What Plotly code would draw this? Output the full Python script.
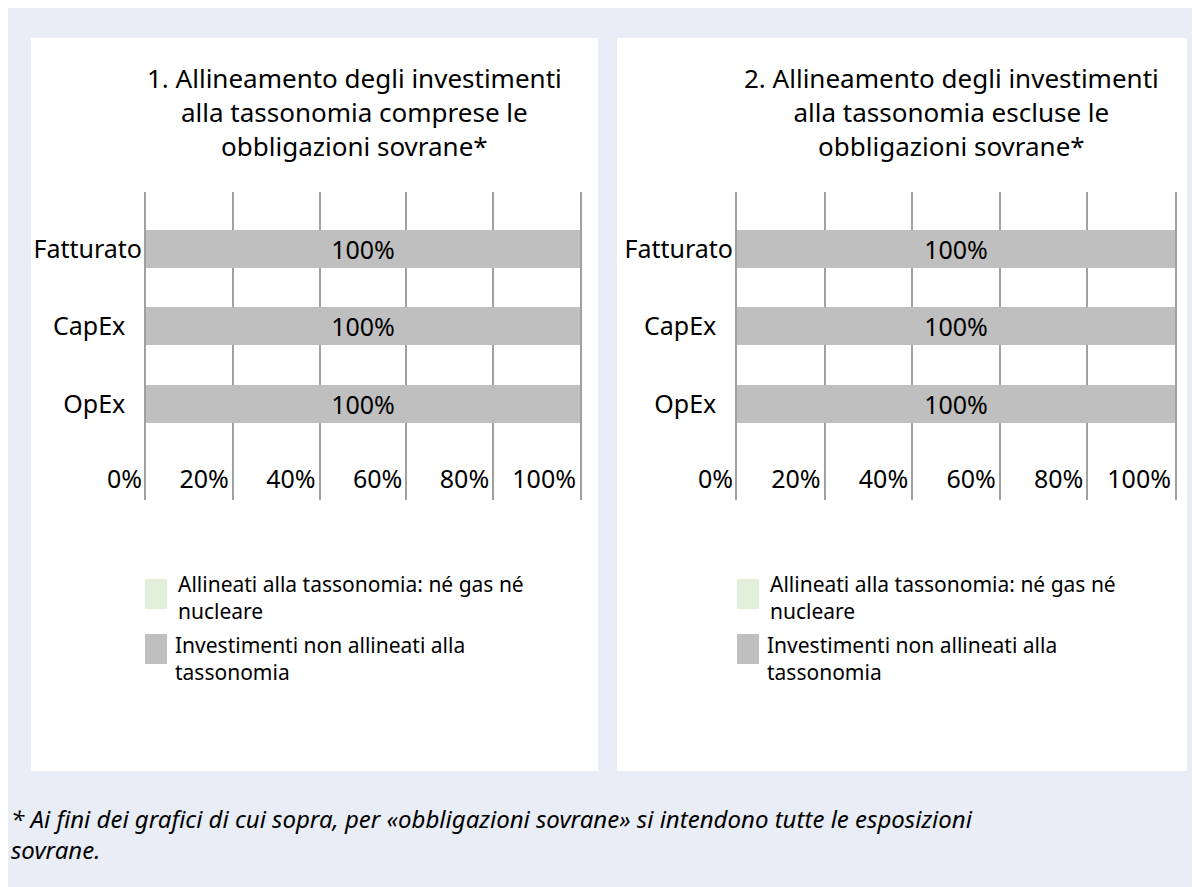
import plotly.graph_objects as go

# ---------------- data ----------------
categories = ["Fatturato", "CapEx", "OpEx"]
category_tick_labels = ["Fatturato", "CapEx\u2002\u2009", "OpEx\u2002\u2009"]

series_names = [
    "Allineati alla tassonomia: né gas né nucleare",
    "Investimenti non allineati alla tassonomia",
]
legend_labels = [
    "Allineati alla tassonomia: né gas né<br>nucleare",
    "Investimenti non allineati alla<br>tassonomia",
]
series_colors = ["#E2EFDA", "#BFBFBF"]

# chart 1: including sovereign bonds
aligned_incl = [0, 0, 0]
not_aligned_incl = [100, 100, 100]
# chart 2: excluding sovereign bonds
aligned_excl = [0, 0, 0]
not_aligned_excl = [100, 100, 100]

x_tick_values = [0, 20, 40, 60, 80, 100]
x_tick_labels = ["0%", "20%", "40%", "60%", "80%", "100%"]

chart_titles = [
    "1. Allineamento degli investimenti<br>alla tassonomia comprese le<br>obbligazioni sovrane*",
    "2. Allineamento degli investimenti<br>alla tassonomia escluse le<br>obbligazioni sovrane*",
]
footnote = ("<i>* Ai fini dei grafici di cui sopra, per «obbligazioni sovrane» si intendono "
            "tutte le esposizioni<br>sovrane.</i>")

# ---------------- layout helpers ----------------
W, H = 1200, 887
OFF = 8  # page margin around the figure
FONT = "Noto Sans"
BG = "#E9EDF6"
GRID = "#A0A0A0"


def px(x):
    return (x - OFF) / W


def py(y):
    return 1 - (y - OFF) / H


fig = go.Figure()

panels = [
    dict(xa="x", ya="y", aligned=aligned_incl, other=not_aligned_incl),
    dict(xa="x2", ya="y2", aligned=aligned_excl, other=not_aligned_excl),
]
for p in panels:
    for k, (name, vals, col) in enumerate(zip(series_names, [p["aligned"], p["other"]], series_colors)):
        fig.add_trace(go.Bar(
            y=categories, x=vals, name=name, orientation="h",
            xaxis=p["xa"], yaxis=p["ya"],
            marker=dict(color=col, line=dict(width=0)),
            width=0.49,
            text=[f"{v}%" for v in vals] if k == 1 else None,
            texttemplate="%{text}" if k == 1 else "",
            textposition="inside", insidetextanchor="middle",
            textfont=dict(family=FONT, size=25, color="#000000"),
            showlegend=False,
        ))

plot_top, plot_bottom = 192, 500
x_domains = [(146, 580), (737, 1175)]

axis_common_x = dict(
    range=[0, 100], tickmode="array", tickvals=x_tick_values, ticktext=x_tick_labels,
    showgrid=True, gridcolor=GRID, gridwidth=2, zeroline=False, showline=False,
    ticks="", ticklabelposition="outside left", ticklabelstandoff=-38, ticklabelshift=-4,
    tickfont=dict(family=FONT, size=25, color="#000000"), automargin=False,
)
axis_common_y = dict(
    type="category", categoryorder="array", categoryarray=categories[::-1],
    range=[-1.24, 2.735], tickmode="array", tickvals=categories, ticktext=category_tick_labels,
    showgrid=False, zeroline=False, showline=True, mirror=True, linecolor=GRID, linewidth=2,
    ticks="", ticklabelstandoff=-3,
    tickfont=dict(family=FONT, size=25, color="#000000"), automargin=False,
)

fig.update_layout(
    xaxis=dict(domain=[px(x_domains[0][0]), px(x_domains[0][1])], anchor="y", **axis_common_x),
    xaxis2=dict(domain=[px(x_domains[1][0]), px(x_domains[1][1])], anchor="y2", **axis_common_x),
    yaxis=dict(domain=[py(plot_bottom), py(plot_top)], anchor="x", **axis_common_y),
    yaxis2=dict(domain=[py(plot_bottom), py(plot_top)], anchor="x2", **axis_common_y),
)

shapes = [
    dict(type="rect", xref="paper", yref="paper", x0=px(31), x1=px(598), y0=py(771), y1=py(38),
         fillcolor="#FFFFFF", line=dict(width=0), layer="below"),
    dict(type="rect", xref="paper", yref="paper", x0=px(617), x1=px(1187), y0=py(771), y1=py(38),
         fillcolor="#FFFFFF", line=dict(width=0), layer="below"),
]

annotations = []
title_centers = [354, 951]
for t, cx in zip(chart_titles, title_centers):
    annotations.append(dict(
        text=t, x=px(cx), y=py(112), xref="paper", yref="paper",
        xanchor="center", yanchor="middle", showarrow=False, align="center",
        font=dict(family=FONT, size=26, color="#000000"),
    ))

# manual legends (one per panel)
legend_offsets = [0, 592]
swatch_tops = [579, 634]
text_tops = [568, 629]
text_lefts = [176, 173]
for off in legend_offsets:
    for i, (lab, col) in enumerate(zip(legend_labels, series_colors)):
        shapes.append(dict(
            type="rect", xref="paper", yref="paper",
            x0=px(145 + off), x1=px(167 + off), y0=py(swatch_tops[i] + 30), y1=py(swatch_tops[i]),
            fillcolor=col, line=dict(width=0),
        ))
        annotations.append(dict(
            text=lab, x=px(text_lefts[i] + off), y=py(text_tops[i]),
            xref="paper", yref="paper", xanchor="left", yanchor="top",
            showarrow=False, align="left",
            font=dict(family=FONT, size=21, color="#000000"),
        ))

annotations.append(dict(
    text=footnote, x=px(9), y=py(834), xref="paper", yref="paper",
    xanchor="left", yanchor="middle", showarrow=False, align="left",
    font=dict(family=FONT, size=24, color="#000000"),
))

fig.update_layout(
    width=W, height=H,
    margin=dict(l=0, r=0, t=0, b=0),
    paper_bgcolor=BG, plot_bgcolor="rgba(0,0,0,0)",
    barmode="stack", bargap=0.5,
    uniformtext=dict(mode="show", minsize=25),
    shapes=shapes, annotations=annotations,
    showlegend=False,
    font=dict(family=FONT, color="#000000"),
)

fig.write_html("out.html")
